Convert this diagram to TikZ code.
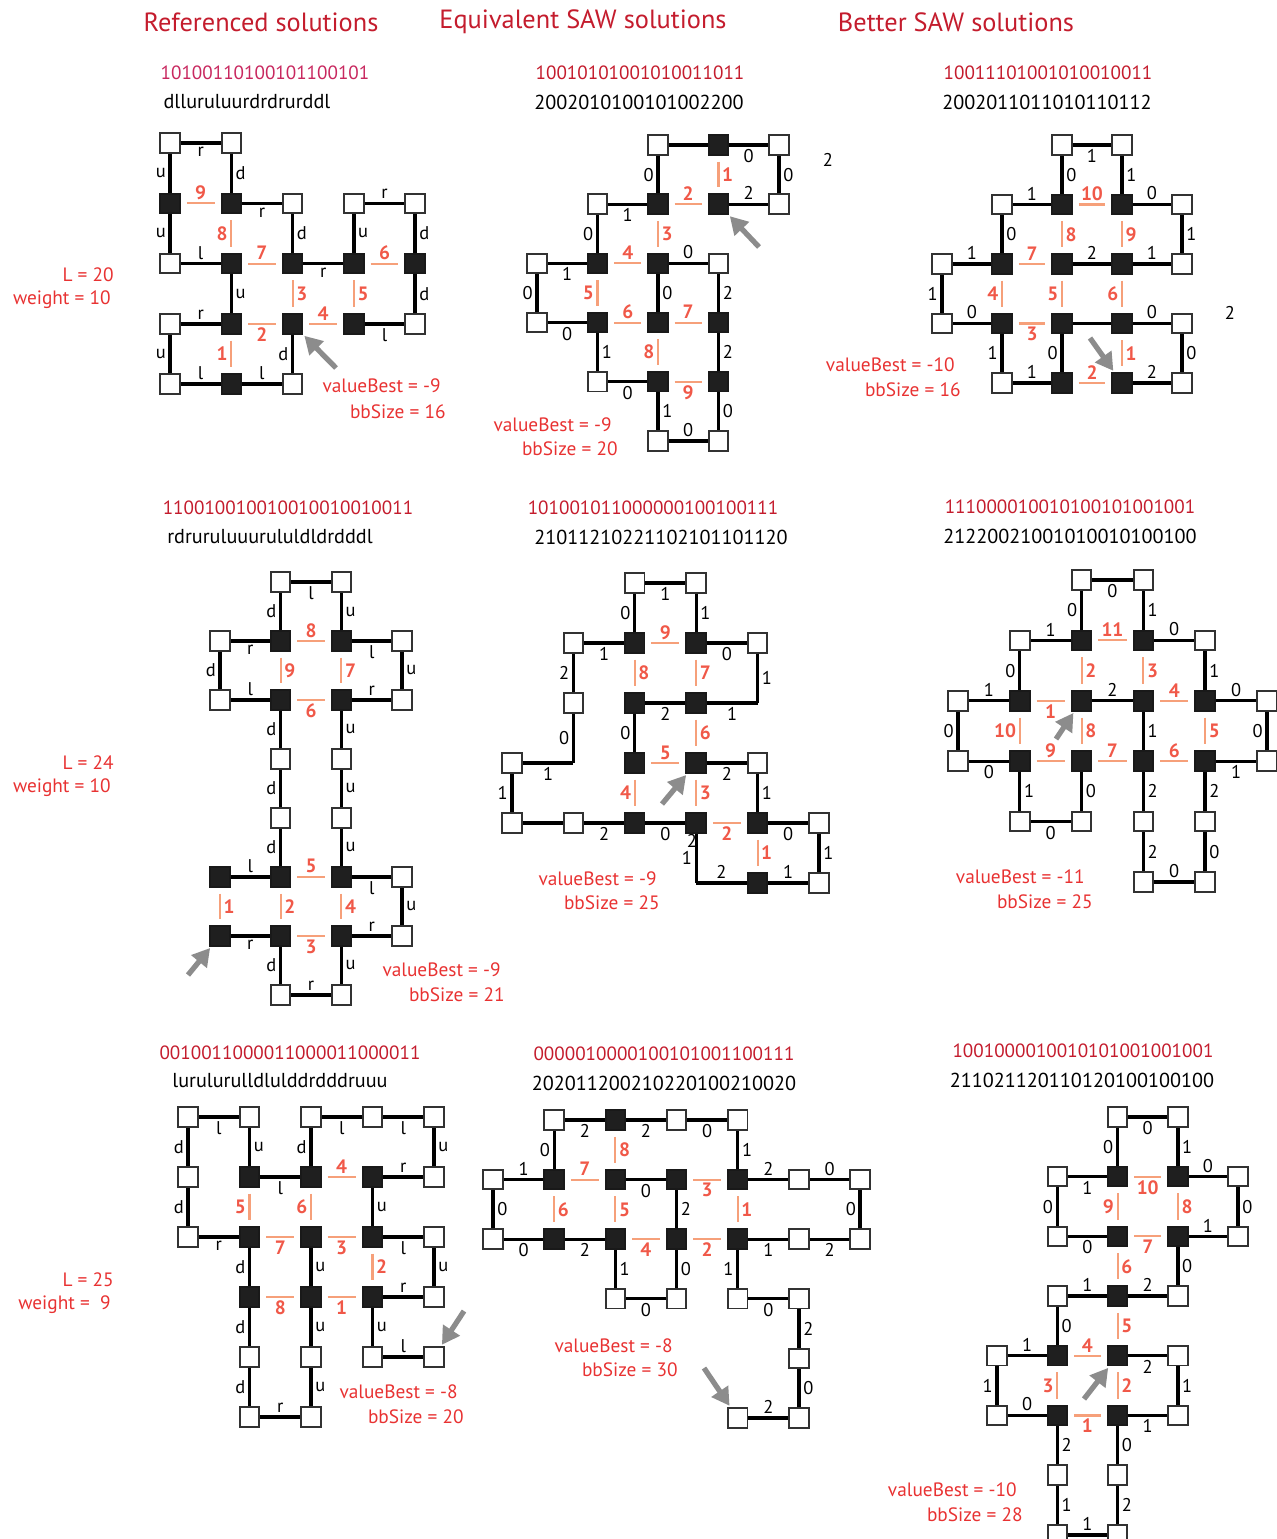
\documentclass[tikz,border=0pt]{standalone}
\usepackage{fontspec}
\setmainfont{PT Sans}
\usetikzlibrary{arrows.meta}
\definecolor{seqred}{RGB}{196,28,45}
\definecolor{seqpink}{RGB}{200,40,95}
\definecolor{valred}{RGB}{232,50,50}
\definecolor{hhline}{RGB}{246,160,122}
\definecolor{hhred}{RGB}{240,88,72}
\definecolor{sqedge}{RGB}{50,50,50}
\tikzset{
    res0/.style = {rectangle, draw=sqedge, fill=white, line width=1.1pt, minimum size=0.39cm, inner sep=0pt},
    res1/.style = {rectangle, draw=black!90, fill=black!88, line width=1.1pt, minimum size=0.39cm, inner sep=0pt},
    resx/.style = {coordinate},
    bond/.style = {line width=1.9pt, black},
    hh/.style = {line width=1.2pt, hhline, shorten >=0.12cm, shorten <=0.12cm},
    hhnum/.style = {font=\fontsize{11}{13}\selectfont\bfseries, text=hhred, inner sep=1.5pt},
    mv/.style = {font=\fontsize{10.5}{12}\selectfont, inner sep=1.5pt},
    startarrow/.style = {line width=3pt, black!45, -{Triangle[length=10pt,width=11pt]}, shorten >=1pt},
    header/.style = {font=\fontsize{15}{18}\selectfont, text=seqred},
    hpseq/.style = {font=\fontsize{10.9}{13}\selectfont, text=seqred},
    moves/.style = {font=\fontsize{11.5}{14}\selectfont},
    result/.style = {font=\fontsize{11}{13}\selectfont, text=valred, anchor=east, inner sep=0pt}
}

\begin{document}
\begin{tikzpicture}[x=0.02cm, y=-0.02cm]
    \clip (0,0) rectangle (1277,1539);

    \node[header] (hdref) at (261,22) {Referenced solutions};
    \node[header] (hdequ) at (583,22) {Equivalent SAW solutions};
    \node[header] (hdbet) at (956,22) {Better SAW solutions};

    \node[result] (lenA) at (114,275) {L = 20};
    \node[result] (wA) at (111,300) {weight = 10};
    \node[result] (lenB) at (114,763) {L = 24};
    \node[result] (wB) at (111,788) {weight = 10};
    \node[result] (lenC) at (114,1280) {L = 25};
    \node[result] (wC) at (111,1305) {weight =\ \ 9};

    \node[hpseq, text=seqpink] (seqrefA) at (265,73) {10100110100101100101};
    \node[moves] (dirrefA) at (247,102) {dlluruluurdrdrurddl};
    \node[hpseq] (seqequA) at (640,73) {10010101001010011011};
    \node[moves] (direquA) at (639,102) {2002010100101002200};
    \node[hpseq] (seqbetA) at (1048,73) {10011101001010010011};
    \node[moves] (dirbetA) at (1047,102) {2002011011010110112};
    \node[hpseq] (seqrefB) at (288,508) {110010010010010010010011};
    \node[moves] (dirrefB) at (270,537) {rdruruluuurululdldrdddl};
    \node[hpseq] (seqequB) at (653,508) {101001011000000100100111};
    \node[moves] (direquB) at (661,537) {21011210221102101101120};
    \node[hpseq] (seqbetB) at (1070,507) {111000010010100101001001};
    \node[moves] (dirbetB) at (1070,536) {21220021001010010100100};
    \node[hpseq] (seqrefC) at (290,1053) {0010011000011000011000011};
    \node[moves] (dirrefC) at (280,1081) {lurulurulldlulddrdddruuu};
    \node[hpseq] (seqequC) at (664,1054) {0000010000100101001100111};
    \node[moves] (direquC) at (664,1083) {202011200210220100210020};
    \node[hpseq] (seqbetC) at (1083,1051) {1001000010010101001001001};
    \node[moves] (dirbetC) at (1082,1080) {211021120110120100100100};

    % referenced, L = 20
    \begin{scope}[shift={(170,143)}, x=1.226cm, y=-1.206cm]
        \foreach \n/\c/\r/\t in {0/2/3/1, 1/2/4/0, 2/1/4/1, 3/0/4/0, 4/0/3/0, 5/1/3/1, 6/1/2/1, 7/0/2/0, 8/0/1/1, 9/0/0/0,
                10/1/0/0, 11/1/1/1, 12/2/1/0, 13/2/2/1, 14/3/2/1, 15/3/1/0, 16/4/1/0, 17/4/2/1, 18/4/3/0, 19/3/3/1}
            \node[res\t] (refA\n) at (\c,\r) {};
        \foreach \i/\m/\p [evaluate=\i as \j using int(\i+1)] in {0/d/left, 1/l/above, 2/l/above, 3/u/left, 4/r/above, 5/u/right,
                6/l/above, 7/u/left, 8/u/left, 9/r/below, 10/d/right, 11/r/below, 12/d/right, 13/r/below, 14/u/right,
                15/r/above, 16/d/right, 17/d/right, 18/l/below}
            \draw[bond] (refA\i) -- node[mv,\p] {\m} (refA\j);
        \foreach \a/\b/\k/\p in {5/2/1/left, 5/0/2/below, 13/0/3/right, 0/19/4/above, 14/19/5/right, 14/17/6/above,
                6/13/7/above, 11/6/8/left, 8/11/9/above}
            \draw[hh] (refA\a) -- node[hhnum,\p] {\k} (refA\b);
    \end{scope}

    % equivalent, L = 20
    \begin{scope}[shift={(537,145)}, x=1.21cm, y=-1.184cm]
        \foreach \n/\c/\r/\t in {0/3/1/1, 1/4/1/0, 2/4/0/0, 3/3/0/1, 4/2/0/0, 5/2/1/1, 6/1/1/0, 7/1/2/1, 8/0/2/0, 9/0/3/0,
                10/1/3/1, 11/1/4/0, 12/2/4/1, 13/2/5/0, 14/3/5/0, 15/3/4/1, 16/3/3/1, 17/3/2/0, 18/2/2/1, 19/2/3/1}
            \node[res\t] (equA\n) at (\c,\r) {};
        \foreach \i/\m/\p [evaluate=\i as \j using int(\i+1)] in {0/2/above, 1/0/right, 2/0/below, 3/{}/above, 4/0/left,
                5/1/below, 6/0/left, 7/1/below, 8/0/left, 9/0/below, 10/1/right, 11/0/below, 12/1/right, 13/0/above,
                14/0/right, 15/2/right, 16/2/right, 17/0/above, 18/0/right}
            \draw[bond] (equA\i) -- node[mv,\p] {\m} (equA\j);
        \foreach \a/\b/\k/\p in {3/0/1/right, 5/0/2/above, 5/18/3/right, 7/18/4/above, 7/10/5/left, 10/19/6/above,
                19/16/7/above, 19/12/8/left, 12/15/9/below}
            \draw[hh] (equA\a) -- node[hhnum,\p] {\k} (equA\b);
    \end{scope}
    \node[mv] (equAextra) at (828,160) {2};

    % better, L = 20
    \begin{scope}[shift={(942,145)}, x=1.2cm, y=-1.19cm]
        \foreach \n/\c/\r/\t in {0/3/4/1, 1/4/4/0, 2/4/3/0, 3/3/3/1, 4/2/3/1, 5/2/4/1, 6/1/4/0, 7/1/3/1, 8/0/3/0, 9/0/2/0,
                10/1/2/1, 11/1/1/0, 12/2/1/1, 13/2/0/0, 14/3/0/0, 15/3/1/1, 16/4/1/0, 17/4/2/0, 18/3/2/1, 19/2/2/1}
            \node[res\t] (betA\n) at (\c,\r) {};
        \foreach \i/\m/\p [evaluate=\i as \j using int(\i+1)] in {0/2/above, 1/0/right, 2/0/above, 3/{}/above, 4/0/left,
                5/1/above, 6/1/left, 7/0/above, 8/1/left, 9/1/above, 10/0/right, 11/1/above, 12/0/right, 13/1/below,
                14/1/right, 15/0/above, 16/1/right, 17/1/above, 18/2/above}
            \draw[bond] (betA\i) -- node[mv,\p] {\m} (betA\j);
        \foreach \a/\b/\k/\p in {3/0/1/right, 5/0/2/above, 7/4/3/below, 10/7/4/left, 19/4/5/left, 18/3/6/left,
                10/19/7/above, 12/19/8/right, 15/18/9/right, 12/15/10/above}
            \draw[hh] (betA\a) -- node[hhnum,\p] {\k} (betA\b);
    \end{scope}
    \node[mv] (betAextra) at (1230,313) {2};

    % referenced, L = 24
    \begin{scope}[shift={(220,582)}, x=1.214cm, y=-1.18cm]
        \foreach \n/\c/\r/\t in {0/0/6/1, 1/1/6/1, 2/1/7/0, 3/2/7/0, 4/2/6/1, 5/3/6/0, 6/3/5/0, 7/2/5/1, 8/2/4/0, 9/2/3/0,
                10/2/2/1, 11/3/2/0, 12/3/1/0, 13/2/1/1, 14/2/0/0, 15/1/0/0, 16/1/1/1, 17/0/1/0, 18/0/2/0, 19/1/2/1,
                20/1/3/0, 21/1/4/0, 22/1/5/1, 23/0/5/1}
            \node[res\t] (refB\n) at (\c,\r) {};
        \foreach \i/\m/\p [evaluate=\i as \j using int(\i+1)] in {0/r/below, 1/d/left, 2/r/above, 3/u/right, 4/r/above,
                5/u/right, 6/l/below, 7/u/right, 8/u/right, 9/u/right, 10/r/above, 11/u/right, 12/l/below, 13/u/right,
                14/l/below, 15/d/left, 16/r/below, 17/d/left, 18/l/above, 19/d/left, 20/d/left, 21/d/left, 22/l/above}
            \draw[bond] (refB\i) -- node[mv,\p] {\m} (refB\j);
        \foreach \a/\b/\k/\p in {23/0/1/right, 22/1/2/right, 1/4/3/below, 7/4/4/right, 22/7/5/above, 19/10/6/below,
                13/10/7/right, 16/13/8/above, 16/19/9/right}
            \draw[hh] (refB\a) -- node[hhnum,\p] {\k} (refB\b);
    \end{scope}

    % equivalent, L = 24
    \node[mv] (equBextra) at (692,841) {2};
    \begin{scope}[shift={(512,583)}, x=1.228cm, y=-1.2cm]
        \foreach \n/\c/\r/\t in {0/3/3/1, 1/4/3/0, 2/4/4/1, 3/5/4/0, 4/5/5/0, 5/4/5/1, 6/3/5/x, 7/3/4/1, 8/2/4/1, 9/1/4/0,
                10/0/4/0, 11/0/3/0, 12/1/3/x, 13/1/2/0, 14/1/1/0, 15/2/1/1, 16/2/0/0, 17/3/0/0, 18/3/1/1, 19/4/1/0,
                20/4/2/x, 21/3/2/1, 22/2/2/1, 23/2/3/1}
            \node[res\t] (equB\n) at (\c,\r) {};
        \foreach \i/\m/\p [evaluate=\i as \j using int(\i+1)] in {0/2/below, 1/1/right, 2/0/below, 3/1/right, 4/1/above,
                5/2/above, 6/1/left, 7/0/below, 8/2/below, 9/{}/below, 10/1/left, 11/1/below, 12/0/left, 13/2/left,
                14/1/below, 15/0/left, 16/1/below, 17/1/right, 18/0/below, 19/1/right, 20/1/below, 21/2/below, 22/0/left}
            \draw[bond] (equB\i) -- node[mv,\p] {\m} (equB\j);
        \foreach \a/\b/\k/\p in {2/5/1/right, 7/2/2/below, 0/7/3/right, 23/8/4/left, 23/0/5/above, 21/0/6/right,
                18/21/7/right, 15/22/8/right, 15/18/9/above}
            \draw[hh] (equB\a) -- node[hhnum,\p] {\k} (equB\b);
    \end{scope}

    % better, L = 24
    \begin{scope}[shift={(958,580)}, x=1.236cm, y=-1.208cm]
        \foreach \n/\c/\r/\t in {0/2/2/1, 1/3/2/1, 2/3/3/1, 3/3/4/0, 4/3/5/0, 5/4/5/0, 6/4/4/0, 7/4/3/1, 8/5/3/0, 9/5/2/0,
                10/4/2/1, 11/4/1/0, 12/3/1/1, 13/3/0/0, 14/2/0/0, 15/2/1/1, 16/1/1/0, 17/1/2/1, 18/0/2/0, 19/0/3/0,
                20/1/3/1, 21/1/4/0, 22/2/4/0, 23/2/3/1}
            \node[res\t] (betB\n) at (\c,\r) {};
        \foreach \i/\m/\p [evaluate=\i as \j using int(\i+1)] in {0/2/above, 1/1/right, 2/2/right, 3/2/right, 4/0/above,
                5/0/right, 6/2/right, 7/1/below, 8/0/left, 9/0/above, 10/1/right, 11/0/above, 12/1/right, 13/0/below,
                14/0/left, 15/1/above, 16/0/left, 17/1/above, 18/0/left, 19/0/below, 20/1/right, 21/0/below, 22/0/right}
            \draw[bond] (betB\i) -- node[mv,\p] {\m} (betB\j);
        \foreach \a/\b/\k/\p in {17/0/1/below, 15/0/2/right, 12/1/3/right, 1/10/4/above, 10/7/5/right, 2/7/6/above,
                23/2/7/above, 0/23/8/right, 20/23/9/above, 17/20/10/left, 15/12/11/above}
            \draw[hh] (betB\a) -- node[hhnum,\p] {\k} (betB\b);
    \end{scope}

    % referenced, L = 25
    \begin{scope}[shift={(188,1117)}, x=1.23cm, y=-1.2cm]
        \foreach \n/\c/\r/\t in {0/4/4/0, 1/3/4/0, 2/3/3/1, 3/4/3/0, 4/4/2/0, 5/3/2/1, 6/3/1/1, 7/4/1/0, 8/4/0/0, 9/3/0/0,
                10/2/0/0, 11/2/1/1, 12/1/1/1, 13/1/0/0, 14/0/0/0, 15/0/1/0, 16/0/2/0, 17/1/2/1, 18/1/3/1, 19/1/4/0,
                20/1/5/0, 21/2/5/0, 22/2/4/0, 23/2/3/1, 24/2/2/1}
            \node[res\t] (refC\n) at (\c,\r) {};
        \foreach \i/\m/\p [evaluate=\i as \j using int(\i+1)] in {0/l/above, 1/u/right, 2/r/above, 3/u/right, 4/l/below,
                5/u/right, 6/r/above, 7/u/right, 8/l/below, 9/l/below, 10/d/left, 11/l/below, 12/u/right, 13/l/below,
                14/d/left, 15/d/left, 16/r/below, 17/d/left, 18/d/left, 19/d/left, 20/r/above, 21/u/right, 22/u/right,
                23/u/right}
            \draw[bond] (refC\i) -- node[mv,\p] {\m} (refC\j);
        \foreach \a/\b/\k/\p in {23/2/1/below, 5/2/2/right, 24/5/3/below, 11/6/4/above, 12/17/5/left, 11/24/6/left,
                17/24/7/below, 18/23/8/below}
            \draw[hh] (refC\a) -- node[hhnum,\p] {\k} (refC\b);
    \end{scope}

    % equivalent, L = 25
    \begin{scope}[shift={(493,1120)}, x=1.224cm, y=-1.192cm]
        \foreach \n/\c/\r/\t in {0/4/5/0, 1/5/5/0, 2/5/4/0, 3/5/3/0, 4/4/3/0, 5/4/2/1, 6/5/2/0, 7/6/2/0, 8/6/1/0, 9/5/1/0,
                10/4/1/1, 11/4/0/0, 12/3/0/0, 13/2/0/1, 14/1/0/0, 15/1/1/1, 16/0/1/0, 17/0/2/0, 18/1/2/1, 19/2/2/1,
                20/2/3/0, 21/3/3/0, 22/3/2/1, 23/3/1/1, 24/2/1/1}
            \node[res\t] (equC\n) at (\c,\r) {};
        \foreach \i/\m/\p [evaluate=\i as \j using int(\i+1)] in {0/2/above, 1/0/right, 2/2/right, 3/0/below, 4/1/left,
                5/1/below, 6/2/below, 7/0/left, 8/0/above, 9/2/above, 10/1/right, 11/0/below, 12/2/below, 13/2/below,
                14/0/left, 15/1/above, 16/0/right, 17/0/below, 18/2/below, 19/1/right, 20/0/below, 21/0/right,
                22/2/right, 23/0/below}
            \draw[bond] (equC\i) -- node[mv,\p] {\m} (equC\j);
        \foreach \a/\b/\k/\p in {10/5/1/right, 22/5/2/below, 23/10/3/below, 19/22/4/below, 24/19/5/right, 15/18/6/right,
                15/24/7/above, 13/24/8/right}
            \draw[hh] (equC\a) -- node[hhnum,\p] {\k} (equC\b);
    \end{scope}

    % better, L = 25
    \begin{scope}[shift={(997,1117)}, x=1.206cm, y=-1.194cm]
        \foreach \n/\c/\r/\t in {0/2/4/1, 1/3/4/0, 2/3/5/0, 3/2/5/1, 4/2/6/0, 5/2/7/0, 6/1/7/0, 7/1/6/0, 8/1/5/1, 9/0/5/0,
                10/0/4/0, 11/1/4/1, 12/1/3/0, 13/2/3/1, 14/3/3/0, 15/3/2/1, 16/4/2/0, 17/4/1/0, 18/3/1/1, 19/3/0/0,
                20/2/0/0, 21/2/1/1, 22/1/1/0, 23/1/2/0, 24/2/2/1}
            \node[res\t] (betC\n) at (\c,\r) {};
        \foreach \i/\m/\p [evaluate=\i as \j using int(\i+1)] in {0/2/below, 1/1/right, 2/1/below, 3/0/right, 4/2/right,
                5/1/above, 6/1/right, 7/2/right, 8/0/above, 9/1/left, 10/1/above, 11/0/right, 12/1/above, 13/2/above,
                14/0/right, 15/1/above, 16/0/right, 17/0/above, 18/1/right, 19/0/below, 20/0/left, 21/1/below,
                22/0/left, 23/0/below}
            \draw[bond] (betC\i) -- node[mv,\p] {\m} (betC\j);
        \foreach \a/\b/\k/\p in {8/3/1/below, 0/3/2/right, 11/8/3/left, 11/0/4/above, 13/0/5/right, 24/13/6/right,
                24/15/7/below, 18/15/8/right, 21/24/9/left, 21/18/10/below}
            \draw[hh] (betC\a) -- node[hhnum,\p] {\k} (betC\b);
    \end{scope}

    % start markers
    \coordinate (refAtail) at (336,368);
    \coordinate (equAtail) at (759,247);
    \coordinate (betAtail) at (1090,338);
    \coordinate (refBtail) at (188,975);
    \coordinate (equBtail) at (662,804);
    \coordinate (betBtail) at (1056,739);
    \coordinate (refCtail) at (464,1311);
    \coordinate (equCtail) at (704,1368);
    \coordinate (betCtail) at (1084,1399);
    \foreach \s in {refA, equA, betA, refB, equB, betB, refC, equC, betC}
        \draw[startarrow] (\s tail) -- (\s0);

    \node[result] (vbrefA) at (441,386) {valueBest = -9};
    \node[result] (bbrefA) at (446,412) {bbSize = 16};
    \node[result] (vbequA) at (612,425) {valueBest = -9};
    \node[result] (bbequA) at (618,449) {bbSize = 20};
    \node[result] (vbbetA) at (955,365) {valueBest = -10};
    \node[result] (bbbetA) at (961,390) {bbSize = 16};
    \node[result] (vbrefB) at (501,970) {valueBest = -9};
    \node[result] (bbrefB) at (505,995) {bbSize = 21};
    \node[result] (vbequB) at (657,879) {valueBest = -9};
    \node[result] (bbequB) at (660,903) {bbSize = 25};
    \node[result] (vbbetB) at (1085,877) {valueBest = -11};
    \node[result] (bbbetB) at (1093,902) {bbSize = 25};
    \node[result] (vbrefC) at (458,1392) {valueBest = -8};
    \node[result] (bbrefC) at (464,1417) {bbSize = 20};
    \node[result] (vbequC) at (673,1346) {valueBest = -8};
    \node[result] (bbequC) at (678,1370) {bbSize = 30};
    \node[result] (vbbetC) at (1017,1490) {valueBest = -10};
    \node[result] (bbbetC) at (1023,1515) {bbSize = 28};
\end{tikzpicture}
\end{document}
